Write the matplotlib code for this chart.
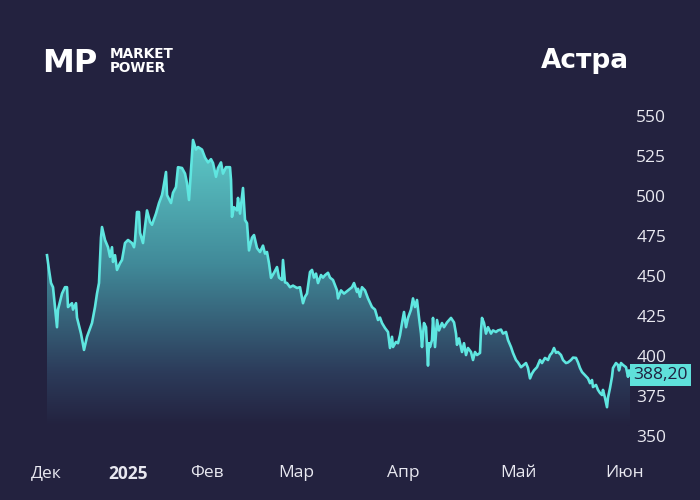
import numpy as np
import matplotlib.pyplot as plt
from matplotlib.colors import LinearSegmentedColormap
from matplotlib.patches import Polygon

# session position along the time axis and close price
session = [47, 49, 51, 53, 55, 57, 58, 62, 65, 67, 68, 72, 73, 76, 77, 81, 84, 87, 92, 95,
           97, 99, 101, 102, 105, 108, 110, 112, 113, 115, 117, 120, 122, 125, 128, 132, 134, 135, 137, 139,
           140, 143, 147, 150, 152, 156, 159, 162, 163, 166, 167, 171, 173, 176, 178, 182, 185, 187, 189, 191,
           193, 196, 198, 202, 205, 208, 211, 213, 216, 218, 221, 223, 226, 228, 230, 231, 232, 234, 237, 238,
           240, 243, 245, 247, 249, 252, 254, 257, 260, 263, 265, 267, 269, 271, 274, 277, 279, 282, 283, 285,
           287, 290, 293, 297, 300, 303, 305, 307, 310, 312, 314, 316, 318, 321, 323, 325, 328, 330, 333, 337,
           338, 341, 344, 348, 352, 354, 357, 358, 360, 362, 365, 368, 372, 375, 378, 380, 382, 385, 388, 390,
           392, 393, 396, 398, 400, 402, 404, 406, 408, 411, 413, 415, 417, 419, 421, 422, 424, 426, 428, 429,
           430, 432, 433, 435, 437, 439, 442, 444, 447, 451, 454, 456, 457, 459, 462, 464, 466, 468, 471, 473,
           475, 477, 480, 481, 482, 484, 486, 488, 491, 493, 496, 498, 501, 503, 506, 508, 511, 513, 516, 518,
           521, 523, 526, 528, 530, 532, 534, 537, 540, 542, 545, 548, 550, 552, 554, 556, 558, 561, 563, 566,
           568, 571, 573, 576, 578, 580, 582, 585, 588, 590, 592, 593, 596, 598, 600, 602, 603, 605, 607, 608,
           610, 612, 613, 616, 618, 619, 621, 623, 626, 628, 629, 630]
price = [463, 453.8, 445.6, 443, 430.6, 418, 429, 439, 443, 443, 430.6, 433, 429, 433, 424, 414, 403.8, 412, 420.6, 430.6,
         439, 445.6, 474, 480.6, 472.5, 468, 462, 468, 458.8, 463, 453.8, 458, 460, 470.6, 472.5, 470.6, 468, 472, 490, 490,
         477, 470.6, 491, 483.8, 482, 489, 495.6, 500.6, 503.8, 515, 500.6, 495.6, 502, 505.6, 518, 517.5, 514, 508, 497.5, 516,
         535, 529, 530.6, 529, 524, 521, 523, 520.6, 512, 517.5, 521, 514, 518, 518, 518, 510, 487, 493, 491, 498.8,
         489, 505, 485, 483, 466, 474, 475.6, 467.5, 465, 469, 464, 465, 458, 448.8, 452, 455.6, 449, 447.5, 460, 446,
         445.6, 443, 444, 442.5, 443, 433, 437, 439, 452.5, 453.8, 449, 451.5, 445.6, 450.6, 449, 450.5, 452, 449, 447.5, 441,
         436, 441, 439, 441, 443, 445.6, 440, 442, 437, 443, 441, 436, 430.6, 429, 422.5, 424, 420.6, 417.5, 415, 405,
         412, 405.6, 408.8, 408, 413, 420.6, 427.5, 418, 423.8, 429, 436, 430.6, 435, 424, 414, 405.6, 420.6, 418, 394, 408,
         405.6, 410, 423.8, 405.6, 422.5, 416, 420.6, 418, 421, 423.8, 421, 414, 407, 411, 402.5, 408, 400.6, 405, 402.5, 397.5,
         402.5, 400.6, 401.9, 416, 423.8, 420.6, 414, 418, 414, 416, 415, 416, 416.5, 414, 415, 410, 405.6, 401.9, 397.5, 396,
         393, 394, 395.6, 392.5, 386, 389, 391, 393, 397.5, 395.6, 398.8, 397.5, 400.6, 402, 405, 402, 402.5, 400.6, 397.5, 395.6,
         396, 397.5, 399, 398.8, 396, 392.5, 390, 388, 386, 383, 385, 380.6, 381.9, 378.8, 376.9, 375.6, 378.8, 373.8, 368, 374,
         380, 387, 392.5, 395.6, 394.4, 391, 395.6, 394.4, 393, 387, 391, 388.2]

month_pos = [46, 128, 207, 296, 403, 518, 625]
month_labels = ["Дек", "2025", "Фев", "Мар", "Апр", "Май", "Июн"]
y_ticks = [350, 375, 400, 425, 450, 475, 500, 525, 550]
last_label = "388,20"
title = "Астра"

bg = "#23223f"
line_c = "#5fe6e0"
txt_c = "#e8e8f0"

plt.rcParams['font.family'] = ['Open Sans', 'DejaVu Sans']

fig = plt.figure(figsize=(7, 5), dpi=100, facecolor=bg)
ax = fig.add_axes([44 / 700, 0.1, 588 / 700, 0.7])
ax.set_facecolor(bg)
ax.set_xlim(44, 632)
ax.set_ylim(341.25, 560)

x = np.array(session, dtype=float)
y = np.array(price, dtype=float)
base = 356

# gradient fill under the line, fading into the background at the bottom
cmap = LinearSegmentedColormap.from_list(
    "fill", [(0, bg), (0.18, "#2c3b5a"), (0.55, "#418a99"), (1, "#5fcfcc")])
grad = np.linspace(0, 1, 256).reshape(-1, 1)
im = ax.imshow(grad, cmap=cmap, aspect="auto", origin="lower",
               extent=[x[0], x[-1], base, 540], zorder=1)
poly = Polygon(np.column_stack([np.r_[x[0], x, x[-1]], np.r_[base, y, base]]),
               closed=True, facecolor="none", edgecolor="none")
ax.add_patch(poly)
im.set_clip_path(poly)

ax.plot(x, y, color=line_c, lw=1.9, zorder=3, solid_joinstyle="round")

for s in ax.spines.values():
    s.set_visible(False)
ax.yaxis.tick_right()
ax.set_yticks(y_ticks)
ax.set_yticklabels([str(v) for v in y_ticks])
ax.set_xticks(month_pos)
ax.set_xticklabels(month_labels)
ax.tick_params(axis="both", length=0, colors=txt_c, labelsize=12.5)
ax.tick_params(axis="y", pad=3)
ax.tick_params(axis="x", pad=11)
ax.get_xticklabels()[1].set_fontweight("bold")

ax.annotate(last_label, xy=(1.0, price[-1]), xycoords=("axes fraction", "data"),
            xytext=(1, 0), textcoords="offset points", ha="left", va="center",
            fontsize=12.5, color="#1f2040",
            bbox=dict(boxstyle="square,pad=0.18", fc="#5fe0da", ec="none"),
            annotation_clip=False, zorder=5)

fig.text(541 / 700, 1 - 68 / 500, title, color="white", fontsize=19,
         fontweight="bold", family="DejaVu Sans", ha="left", va="baseline")

# logo
fig.text(42 / 700, 1 - 72 / 500, "MP", color="white", fontsize=23,
         fontweight="heavy", family="DejaVu Sans", ha="left", va="baseline")
fig.text(110 / 700, 1 - 58.5 / 500, "MARKET", color="white", fontsize=9.8,
         fontweight="bold", family="DejaVu Sans", ha="left", va="baseline")
fig.text(110 / 700, 1 - 72 / 500, "POWER", color="white", fontsize=9.8,
         fontweight="bold", family="DejaVu Sans", ha="left", va="baseline")

fig.savefig("out.png", dpi=100, facecolor=bg)
